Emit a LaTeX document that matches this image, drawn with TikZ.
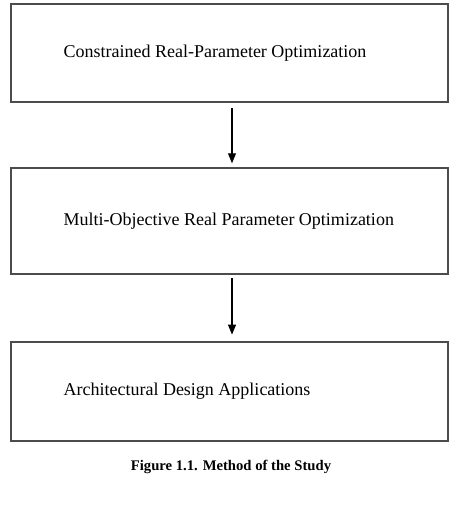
\documentclass[tikz,border=0pt]{standalone}
\usepackage{fontspec}
\setmainfont{Liberation Serif}
\usetikzlibrary{arrows.meta,positioning}

\begin{document}
\begin{tikzpicture}[x=0.75pt,y=-0.75pt]
    \tikzset{
        stagebox/.style={draw=black!70, line width=1.1pt, minimum width=437*0.75pt},
        stagetext/.style={anchor=west, inner sep=0pt, font=\fontsize{13.5}{16}\selectfont},
        flow/.style={-{Triangle[width=6pt,length=7.5pt]}, line width=0.8pt},
    }
    \useasboundingbox (0,0) rectangle (457,520);

    \node[stagebox, minimum height=98*0.75pt] (constr) at (229.5,53) {};
    \node[stagebox, minimum height=106*0.75pt] (multi) at (229.5,221) {};
    \node[stagebox, minimum height=99*0.75pt] (arch) at (229.5,391.5) {};

    \node[stagetext] (constrtxt) at ([xshift=53*0.75pt]constr.west) {Constrained Real-Parameter Optimization};
    \node[stagetext] (multitxt) at ([xshift=53*0.75pt]multi.west) {Multi-Objective Real Parameter Optimization};
    \node[stagetext] (archtxt) at ([xshift=53*0.75pt]arch.west) {Architectural Design Applications};

    % arrows between the stages
    \draw[flow, shorten <=4pt, shorten >=3pt] ([xshift=2.5*0.75pt]constr.south) -- ([xshift=2.5*0.75pt]multi.north);
    \draw[flow, shorten <=2.5pt, shorten >=5pt] ([xshift=2.5*0.75pt]multi.south) -- ([xshift=2.5*0.75pt]arch.north);

    \node[font=\fontsize{11}{13}\selectfont\bfseries] (caption) at (231,467) {Figure 1.1. Method of the Study};
\end{tikzpicture}
\end{document}
